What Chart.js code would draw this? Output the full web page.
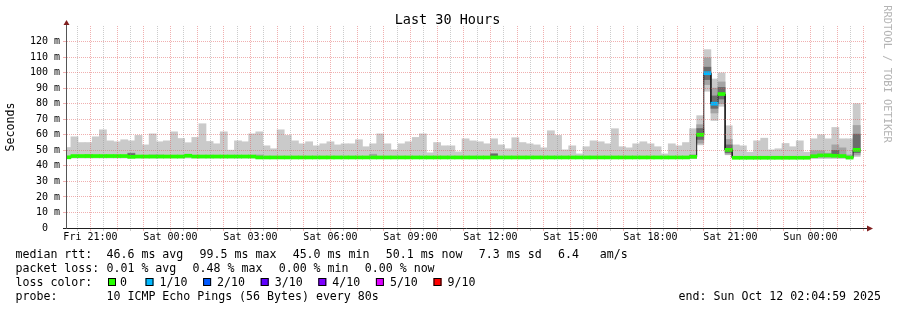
<!DOCTYPE html>
<html>
<head>
<meta charset="utf-8">
<script src="https://cdn.jsdelivr.net/npm/chart.js@4.4.1/dist/chart.umd.min.js"></script>
<style>
  html, body { margin: 0; padding: 0; background: #fff; }
  #wrap { width: 897px; height: 310px; }
</style>
</head>
<body>
<div id="wrap"><canvas id="chart" width="897" height="310"></canvas></div>
<script>
/* ----------------------------------------------------------
   Data – SmokePing "Last 30 Hours", 16 minute bins from Fri 20:00
   ---------------------------------------------------------- */
const TITLE = 'Last 30 Hours';
const DAY_NAMES = ['Fri', 'Sat', 'Sun'];
const xLabelTicks = ['Fri 21:00', 'Sat 00:00', 'Sat 03:00', 'Sat 06:00', 'Sat 09:00',
                     'Sat 12:00', 'Sat 15:00', 'Sat 18:00', 'Sat 21:00', 'Sun 00:00'];
const yTickLabels = ['0', '10 m', '20 m', '30 m', '40 m', '50 m', '60 m',
                     '70 m', '80 m', '90 m', '100 m', '110 m', '120 m'];

// top of the light smoke (slowest of the 10 pings), ms
const smokeMax = [
  51.8, 58.7, 55.0, 55.0, 58.7, 63.2, 56.1, 55.5, 56.8, 56.1,
  59.6, 53.5, 60.6, 55.5, 56.1, 61.9, 57.6, 54.9, 58.3, 67.1,
  55.7, 54.2, 61.9, 50.1, 56.1, 55.5, 60.6, 61.9, 52.9, 51.0,
  63.2, 59.6, 56.1, 54.2, 55.5, 52.9, 54.2, 55.5, 53.5, 54.2,
  54.2, 56.8, 52.3, 54.2, 60.6, 54.2, 50.3, 54.2, 55.5, 58.3,
  60.6, 48.4, 55.0, 52.9, 52.9, 49.0, 57.4, 56.1, 55.5, 54.2,
  57.4, 53.5, 51.0, 58.1, 55.0, 54.2, 53.5, 51.6, 62.6, 59.6,
  50.3, 52.9, 47.7, 52.3, 56.1, 55.5, 54.2, 63.9, 52.3, 51.6,
  54.2, 55.5, 54.2, 52.3, 47.7, 54.2, 52.9, 55.0, 63.9, 72.3,
  114.8, 95.9, 99.8, 65.8, 53.5, 52.9, 48.8, 56.1, 57.8, 50.3,
  51.0, 54.4, 52.3, 56.1, 48.8, 57.4, 60.0, 57.4, 64.7, 57.4,
  57.4, 80.0,
];

// bottom of the light smoke (fastest ping), ms
const smokeMin = [
  45.0, 45.0, 45.0, 45.0, 45.0, 45.0, 45.0, 45.0, 45.0, 45.0,
  45.0, 45.0, 45.0, 45.0, 45.0, 45.0, 45.0, 45.0, 45.0, 45.0,
  45.0, 45.0, 45.0, 45.0, 45.0, 45.0, 45.0, 44.8, 44.8, 44.8,
  44.8, 44.8, 44.8, 44.8, 44.8, 44.8, 44.8, 44.8, 44.8, 44.8,
  44.8, 44.8, 44.8, 44.8, 44.8, 44.8, 44.8, 44.8, 44.8, 44.8,
  44.8, 44.8, 44.8, 44.8, 44.8, 44.8, 44.8, 44.8, 44.8, 44.8,
  44.8, 44.8, 44.8, 44.8, 44.8, 44.8, 44.8, 44.8, 44.8, 44.8,
  44.8, 44.8, 44.8, 44.8, 44.8, 44.8, 44.8, 44.8, 44.8, 44.8,
  44.8, 44.8, 44.8, 44.8, 44.8, 44.8, 44.8, 44.8, 44.8, 53.5,
  88.0, 69.2, 78.3, 47.1, 44.7, 44.7, 44.7, 44.7, 44.7, 44.7,
  44.7, 44.7, 44.7, 44.7, 44.7, 44.7, 44.7, 44.7, 44.7, 44.7,
  44.7, 46.0,
];

// median rtt per bin, ms
const median = [
  45.5, 46.3, 46.3, 46.3, 46.3, 46.3, 46.3, 46.3, 46.3, 45.8,
  46.0, 46.0, 46.0, 46.0, 46.0, 46.0, 46.0, 46.5, 46.0, 46.0,
  46.0, 46.0, 46.0, 46.0, 46.0, 46.0, 46.0, 45.4, 45.4, 45.4,
  45.4, 45.4, 45.4, 45.4, 45.4, 45.4, 45.4, 45.4, 45.4, 45.4,
  45.4, 45.4, 45.4, 45.4, 45.4, 45.4, 45.4, 45.4, 45.4, 45.4,
  45.4, 45.4, 45.4, 45.4, 45.4, 45.4, 45.4, 45.4, 45.4, 45.4,
  45.4, 45.4, 45.4, 45.4, 45.4, 45.4, 45.4, 45.4, 45.4, 45.4,
  45.4, 45.4, 45.4, 45.4, 45.4, 45.4, 45.4, 45.4, 45.4, 45.4,
  45.4, 45.4, 45.4, 45.4, 45.4, 45.4, 45.4, 45.4, 45.8, 60.0,
  99.6, 80.0, 86.2, 50.3, 45.2, 45.2, 45.2, 45.2, 45.2, 45.2,
  45.2, 45.2, 45.2, 45.2, 45.2, 46.2, 46.7, 46.7, 46.5, 46.3,
  45.3, 50.3,
];

// lost pings out of 10 per bin
const lossTenths = [
  0, 0, 0, 0, 0, 0, 0, 0, 0, 0,  0, 0, 0, 0, 0, 0, 0, 0, 0, 0,
  0, 0, 0, 0, 0, 0, 0, 0, 0, 0,  0, 0, 0, 0, 0, 0, 0, 0, 0, 0,
  0, 0, 0, 0, 0, 0, 0, 0, 0, 0,  0, 0, 0, 0, 0, 0, 0, 0, 0, 0,
  0, 0, 0, 0, 0, 0, 0, 0, 0, 0,  0, 0, 0, 0, 0, 0, 0, 0, 0, 0,
  0, 0, 0, 0, 0, 0, 0, 0, 0, 0,  1, 1, 0, 0, 0, 0, 0, 0, 0, 0,
  0, 0, 0, 0, 0, 0, 0, 0, 0, 0,  0, 0,
];

// bins with visible darker smoke (inner ping quantiles)
const bandBins = [3, 9, 12, 13, 27, 43, 60, 88, 89, 90, 91, 92, 93, 105, 106, 107, 108, 109, 110, 111];
const midLo    = [45.6, 45.6, 45.3, 45.3, 45.0, 45.0, 45.0, 45.0, 54.6, 92.3, 74.0, 80.0, 47.5, 45.3, 45.5, 45.5, 45.5, 45.5, 45.0, 47.0];
const midHi    = [47.3, 48.3, 47.0, 47.0, 47.0, 47.5, 48.0, 47.2, 66.5, 109.5, 90.0, 94.0, 57.0, 49.7, 49.7, 48.2, 53.5, 51.6, 47.0, 66.0];
const innerLo  = [null, 46.2, null, null, null, null, 45.3, null, 57.0, 95.5, 77.0, 83.0, 48.5, null, null, null, 46.0, null, null, 48.5];
const innerHi  = [null, 47.9, null, null, null, null, 47.6, null, 64.0, 103.5, 85.0, 90.5, 53.5, null, null, null, 50.0, null, null, 60.4];

const LOSS_LEVELS = [0, 1, 2, 3, 4, 5, 9];
const LOSS_LABELS = ['0', '1/10', '2/10', '3/10', '4/10', '5/10', '9/10'];
const LOSS_COLORS = ['#26ff00', '#00b8ff', '#0059ff', '#5e00ff', '#7e00ff', '#dd00ff', '#ff0000'];

const legendLabels = ['median rtt:', 'packet loss:', 'loss color:', 'probe:'];
const legendItems = [
  ['46.6 ms avg', '99.5 ms max', '45.0 ms min', '50.1 ms now', '7.3 ms sd', '6.4   am/s'],
  ['0.01 % avg', '0.48 % max', '0.00 % min', '0.00 % now'],
  [],
  ['10 ICMP Echo Pings (56 Bytes) every 80s'],
];
const END_TEXT = 'end: Sun Oct 12 02:04:59 2025';
const WATERMARK = 'RRDTOOL / TOBI OETIKER';

/* ----------------------------------------------------------
   Time axis helpers (minutes since Fri 00:00)
   ---------------------------------------------------------- */
const GRAPH_START = 20 * 60 + 4 + 59 / 60;   // Fri 20:04:59
const GRAPH_END = GRAPH_START + 30 * 60;      // Sun 02:04:59
const FIRST_BIN = 20 * 60;                    // Fri 20:00
const BIN_MINUTES = 16;
const Y_MAX = 130;
const MEDIAN_HALF = 0.97;                     // ~1.5px half-thickness of the median mark

function fromMinutes(v) {
  const d = Math.floor(v / 1440);
  const r = Math.round(v - d * 1440);
  return `${DAY_NAMES[d]} ${String(Math.floor(r / 60)).padStart(2, '0')}:${String(r % 60).padStart(2, '0')}`;
}
const binStart = k => FIRST_BIN + BIN_MINUTES * k;
const binCenter = k => binStart(k) + BIN_MINUTES / 2;

const gridTimes = [];
for (let t = Math.ceil(GRAPH_START / 30) * 30; t <= GRAPH_END; t += 30) gridTimes.push(t);
const gridValues = [];
for (let v = 0; v <= Y_MAX; v += 5) gridValues.push(v);

/* ----------------------------------------------------------
   Colours
   ---------------------------------------------------------- */
const MGRID = 'rgba(222,79,79,0.45)';
const GRID = 'rgba(143,143,143,0.45)';
const NONE = 'rgba(0,0,0,0)';
const AXIS = '#1f1f1f';
const SMOKE = ['#cacaca', '#a4a4a4', '#6b6b6b'];
const ARROW = '#801f1f';
const MONO = '"DejaVu Sans Mono", monospace';

/* ----------------------------------------------------------
   Datasets
   ---------------------------------------------------------- */
const barBase = { type: 'bar', grouped: false, barPercentage: 1, categoryPercentage: 1 };

const datasets = [
  { ...barBase, order: 5, backgroundColor: SMOKE[0],
    data: smokeMax.map((hi, k) => ({ x: binCenter(k), y: [smokeMin[k], hi] })) },
  { ...barBase, order: 4, backgroundColor: SMOKE[1],
    data: bandBins.map((k, i) => ({ x: binCenter(k), y: [midLo[i], midHi[i]] })) },
  { ...barBase, order: 3, backgroundColor: SMOKE[2],
    data: bandBins.map((k, i) => innerLo[i] == null ? null : ({ x: binCenter(k), y: [innerLo[i], innerHi[i]] }))
                  .filter(Boolean) },
  { type: 'line', order: 2, borderColor: '#202020', borderWidth: 1, pointRadius: 0, tension: 0,
    data: median.flatMap((m, k) => [{ x: binStart(k), y: m }, { x: binStart(k + 1), y: m }]) },
  { ...barBase, order: 1,
    backgroundColor: lossTenths.map(l => LOSS_COLORS[LOSS_LEVELS.indexOf(l)]),
    data: median.map((m, k) => ({ x: binCenter(k), y: [m - MEDIAN_HALF, m + MEDIAN_HALF] })) },
];

/* ----------------------------------------------------------
   RRDtool furniture: title, arrows, legend, watermark
   ---------------------------------------------------------- */
const ITEM_GAP = 16.3;

const rrdDecor = {
  id: 'rrdDecor',
  afterDraw(chart) {
    const { ctx, chartArea: a } = chart;
    ctx.save();

    // axis stubs and arrows
    ctx.lineWidth = 1;
    ctx.strokeStyle = '#555';
    ctx.beginPath();
    ctx.moveTo(a.left + 0.5, a.top); ctx.lineTo(a.left + 0.5, a.top - 2);
    ctx.stroke();
    ctx.strokeStyle = AXIS;
    ctx.beginPath();
    ctx.moveTo(a.right, a.bottom + 0.5); ctx.lineTo(a.right + 2, a.bottom + 0.5);
    ctx.stroke();
    ctx.fillStyle = ARROW;
    ctx.beginPath();
    ctx.moveTo(a.left - 2.5, a.top - 1); ctx.lineTo(a.left + 3.5, a.top - 1); ctx.lineTo(a.left + 0.5, a.top - 6);
    ctx.closePath(); ctx.fill();
    ctx.beginPath();
    ctx.moveTo(a.right + 1, a.bottom - 2.5); ctx.lineTo(a.right + 1, a.bottom + 3.5); ctx.lineTo(a.right + 7, a.bottom + 0.5);
    ctx.closePath(); ctx.fill();

    // title
    ctx.fillStyle = '#000';
    ctx.font = `13.5px ${MONO}`;
    ctx.textAlign = 'center';
    ctx.textBaseline = 'middle';
    ctx.fillText(TITLE, 447.5, 20);

    // y axis title
    ctx.font = `11.6px ${MONO}`;
    ctx.save();
    ctx.translate(11, (a.top + a.bottom) / 2);
    ctx.rotate(-Math.PI / 2);
    ctx.fillText('Seconds', 0, 0);
    ctx.restore();

    // watermark
    ctx.save();
    ctx.fillStyle = '#b4b4b4';
    ctx.font = `10.4px ${MONO}`;
    ctx.translate(887, 74);
    ctx.rotate(Math.PI / 2);
    ctx.fillText(WATERMARK, 0, 0);
    ctx.restore();

    // legend rows
    const baselines = [258, 272, 285.8, 299.5];
    ctx.font = `11.6px ${MONO}`;
    ctx.textAlign = 'left';
    ctx.textBaseline = 'alphabetic';
    legendLabels.forEach((label, i) => {
      ctx.fillText(label, 15.5, baselines[i]);
      let x = 106.5;
      legendItems[i].forEach(item => {
        ctx.fillText(item, x, baselines[i]);
        x += ctx.measureText(item).width + ITEM_GAP;
      });
    });

    // loss colour swatches
    LOSS_LABELS.forEach((lbl, i) => {
      const bx = i === 0 ? 108 : 145.5 + 57.6 * (i - 1);
      ctx.fillStyle = LOSS_COLORS[i];
      ctx.fillRect(bx, 278, 8, 8);
      ctx.strokeStyle = '#000';
      ctx.strokeRect(bx + 0.5, 278.5, 7, 7);
      ctx.fillStyle = '#000';
      ctx.fillText(lbl, i === 0 ? 120 : bx + 14, baselines[2]);
    });
    ctx.textAlign = 'right';
    ctx.fillText(END_TEXT, 881, baselines[3]);

    ctx.restore();
  },
};

/* ----------------------------------------------------------
   Chart
   ---------------------------------------------------------- */
Chart.defaults.font.family = MONO;
Chart.defaults.color = '#000';

new Chart(document.getElementById('chart'), {
  type: 'bar',
  data: { datasets },
  options: {
    responsive: false,
    animation: false,
    events: [],
    layout: { padding: { top: 26, right: 31, left: 0, bottom: 0 } },
    plugins: { legend: { display: false }, tooltip: { enabled: false }, title: { display: false } },
    scales: {
      x: {
        type: 'linear',
        min: GRAPH_START,
        max: GRAPH_END,
        offset: false,
        afterBuildTicks: s => { s.ticks = gridTimes.map(v => ({ value: v })); },
        afterFit: s => { s.height = 82; },
        grid: {
          offset: false,
          z: 1,
          lineWidth: 1,
          tickLength: 3,
          color: c => (c.tick && c.tick.value % 60 === 0 ? MGRID : GRID),
        },
        border: { color: AXIS, width: 1, dash: [1, 1], z: 1 },
        ticks: {
          autoSkip: false, maxRotation: 0, minRotation: 0, padding: 0,
          font: { size: 10, family: MONO },
          callback: v => { const s = fromMinutes(v); return xLabelTicks.includes(s) ? s : ''; },
        },
      },
      y: {
        min: 0,
        max: Y_MAX,
        afterBuildTicks: s => { s.ticks = gridValues.map(v => ({ value: v })); },
        afterFit: s => { s.width = 66; },
        grid: {
          z: 1,
          lineWidth: 1,
          tickLength: 3,
          color: c => {
            const v = c.tick ? c.tick.value : -1;
            if (v <= 0 || v >= Y_MAX) return NONE;
            return v % 10 === 0 ? MGRID : GRID;
          },
          tickColor: c => {
            const v = c.tick ? c.tick.value : -1;
            if (v === 0) return AXIS;
            if (v >= Y_MAX) return NONE;
            return v % 10 === 0 ? MGRID : GRID;
          },
        },
        border: { color: '#555', width: 1, dash: [1, 1], z: 1 },
        ticks: {
          padding: 3,
          font: { size: 10, family: MONO },
          callback: v => {
            if (v % 10 !== 0 || v / 10 >= yTickLabels.length) return '';
            const lbl = yTickLabels[v / 10];
            return lbl.endsWith(' m') ? lbl : lbl + '  ';
          },
        },
      },
    },
  },
  plugins: [rrdDecor],
});
</script>
</body>
</html>
